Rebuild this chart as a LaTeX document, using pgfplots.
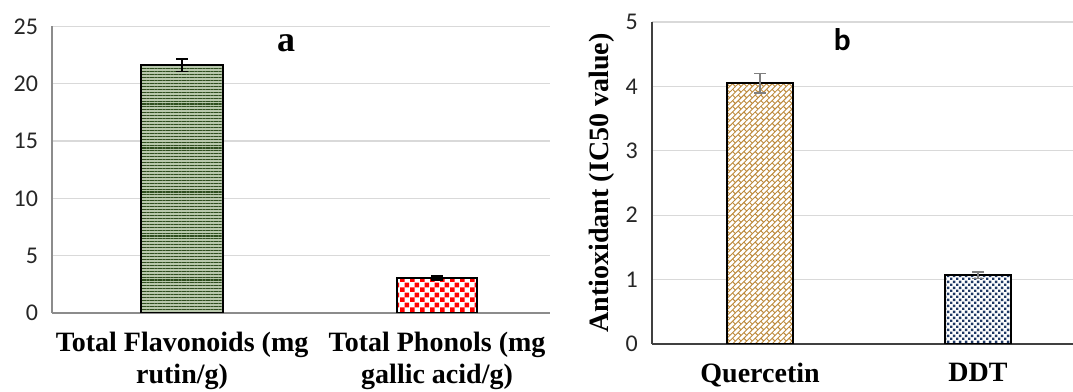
\documentclass[border=0pt]{standalone}
\usepackage{fontspec}
\setmainfont{Liberation Serif}
\newfontfamily\calibri{Carlito}
\usepackage{pgfplots}
\pgfplotsset{compat=1.18}
\usetikzlibrary{patterns,patterns.meta}
\definecolor{gridc}{HTML}{D9D9D9}
\definecolor{axc}{HTML}{8C8C8C}
\definecolor{dgreen}{HTML}{2F4F1F}
\definecolor{lgreen}{HTML}{B9C8AD}
\definecolor{tan}{HTML}{BD8A3C}
\definecolor{navy}{HTML}{1F3864}
\definecolor{errgray}{HTML}{7F7F7F}
\tikzdeclarepattern{
  name=hstripes, type=uncolored,
  bounding box={(0,-0.5pt) and (2pt,2.5pt)},
  tile size={(2pt,2.2pt)},
  code={\fill (0,0) rectangle (2pt,0.8pt);}
}
\tikzdeclarepattern{
  name=checker, type=uncolored,
  bounding box={(0,0) and (7.5pt,7.5pt)},
  tile size={(7.5pt,7.5pt)},
  code={\fill (0,0) rectangle (3.75pt,3.75pt); \fill (3.75pt,3.75pt) rectangle (7.5pt,7.5pt);}
}
\tikzdeclarepattern{
  name=brick, type=uncolored,
  bounding box={(-0.5pt,-0.5pt) and (6.5pt,6.5pt)},
  tile size={(6pt,6pt)},
  tile transformation={rotate=45},
  code={\draw[line width=0.7pt] (0,0) -- (6pt,0) (0,3pt) -- (6pt,3pt) (0,0) -- (0,3pt) (3pt,3pt) -- (3pt,6pt);}
}
\tikzdeclarepattern{
  name=sqdots, type=uncolored,
  bounding box={(0,0) and (4.4pt,4.4pt)},
  tile size={(4.4pt,4.4pt)},
  code={\fill (0,0) rectangle (1.8pt,1.8pt); \fill (2.2pt,2.2pt) rectangle (4pt,4pt);}
}
\pgfplotsset{
  mystyle/.style={
    scale only axis,
    enlargelimits=false,
    axis lines*=left,
    axis line style={axc, line width=1.3pt, -},
    ymajorgrids,
    grid style={gridc, line width=1pt},
    major tick length=0pt,
    xtick={0,1},
    /pgf/number format/assume math mode=true,
    yticklabel style={font=\calibri\fontsize{18}{20}\selectfont, xshift=-7pt, text=black!85},
    xticklabel style={font=\bfseries\fontsize{21}{24}\selectfont, align=center, anchor=north, yshift=-11pt},
  }
}
\begin{document}
\begin{tikzpicture}
\useasboundingbox (0,0) rectangle (804.75pt,294pt);
% ---------- left panel ----------
\begin{axis}[mystyle,
  at={(39pt,59.25pt)}, anchor=south west,
  width=373.5pt, height=215pt,
  xmin=-0.51, xmax=1.443, ymin=0, ymax=25,
  ytick={0,5,10,15,20,25},
  xticklabels={{Total Flavonoids (mg\\rutin/g)},{Total Phonols (mg\\gallic acid/g)}},
]
\addplot[ybar, bar width=61pt, draw=black, line width=1.5pt, fill=lgreen,
  postaction={pattern=hstripes, pattern color=dgreen}]
  coordinates {(0,21.6)};
\addplot[ybar, bar width=60pt, draw=black, line width=1.5pt, fill=white,
  postaction={pattern=checker, pattern color=red}]
  coordinates {(1,3.05)};
\addplot[draw=none, mark=none, forget plot,
  error bars/.cd, y dir=both, y explicit,
  error mark=-,
  error bar style={draw=black, line width=1.3pt},
  error mark options={rotate=90, draw=black, line width=1.3pt, mark size=4.5pt}]
  coordinates {(0,21.6) +- (0,0.55) (1,3.05) +- (0,0.2)};
\node[font=\bfseries\fontsize{27}{30}\selectfont] at (axis description cs:0.47,0.942) {a};
\end{axis}
% ---------- right panel ----------
\begin{axis}[mystyle,
  axis line style={black!75, line width=1.5pt, -},
  at={(488.8pt,36pt)}, anchor=south west,
  width=316pt, height=241.5pt,
  xmin=-0.497, xmax=1.436, ymin=0, ymax=5,
  ytick={0,1,2,3,4,5},
  xticklabels={Quercetin,DDT},
  ylabel={Antioxidant (IC50 value)},
  every axis y label/.style={at={(axis description cs:-0.118,0.50)}, rotate=90, anchor=center,
    font=\bfseries\fontsize{21}{24}\selectfont},
]
\addplot[ybar, bar width=50pt, draw=black, line width=1.5pt, fill=white,
  postaction={pattern=brick, pattern color=tan}]
  coordinates {(0,4.05)};
\addplot[ybar, bar width=50pt, draw=black, line width=1.5pt, fill=white,
  postaction={pattern=sqdots, pattern color=navy}]
  coordinates {(1,1.07)};
\addplot[draw=none, mark=none, forget plot,
  error bars/.cd, y dir=both, y explicit,
  error mark=-,
  error bar style={draw=errgray, line width=1.1pt},
  error mark options={rotate=90, draw=errgray, line width=1.1pt, mark size=4.2pt}]
  coordinates {(0,4.05) +- (0,0.15) (1,1.07) +- (0,0.05)};
\node[font=\calibri\bfseries\fontsize{23.5}{26}\selectfont] at (axis description cs:0.452,0.946) {b};
\end{axis}
\end{tikzpicture}
\end{document}
